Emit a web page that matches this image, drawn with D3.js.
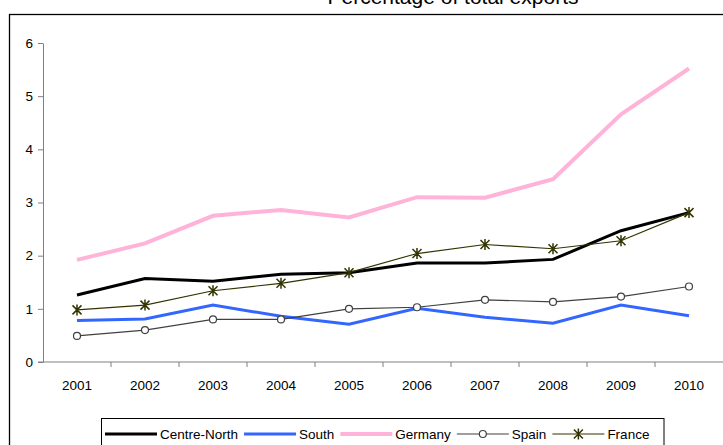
<!DOCTYPE html>
<html lang="en">
<head>
    <meta charset="UTF-8">
    <title>Percentage of total exports</title>
    <script src="https://cdn.jsdelivr.net/npm/d3@7"></script>
    <style>
        body { margin: 0; background: #fff; }
        text { font-family: "Liberation Sans", Arial, sans-serif; fill: #000; }
        .axis path, .axis line { stroke: #808080; }
    </style>
</head>
<body>
    <div id="chart-space"></div>

    <script>
        // chart data
        var years = ["2001", "2002", "2003", "2004", "2005", "2006", "2007", "2008", "2009", "2010"];
        var centreNorth = [1.26, 1.57, 1.52, 1.65, 1.68, 1.86, 1.86, 1.93, 2.47, 2.81];
        var south = [0.78, 0.81, 1.07, 0.86, 0.71, 1.01, 0.84, 0.73, 1.07, 0.87];
        var germany = [1.92, 2.23, 2.75, 2.86, 2.72, 3.10, 3.09, 3.44, 4.66, 5.52];
        var spain = [0.49, 0.60, 0.80, 0.80, 1.00, 1.03, 1.17, 1.13, 1.23, 1.42];
        var france = [0.98, 1.07, 1.34, 1.48, 1.68, 2.04, 2.21, 2.13, 2.28, 2.81];
        var yTicks = [0, 1, 2, 3, 4, 5, 6];

        var width = 723;
        var height = 445;

        var series = [
            {name: "Centre-North", values: centreNorth, color: "#000000", width: 3, marker: null},
            {name: "South", values: south, color: "#3366ff", width: 3, marker: null},
            {name: "Germany", values: germany, color: "#ffb3d9", width: 4, marker: null},
            {name: "Spain", values: spain, color: "#404040", width: 1.2, marker: "circle"},
            {name: "France", values: france, color: "#333300", width: 1.2, marker: "star"}
        ];

        var svg = d3.select("#chart-space")
            .append("svg")
            .attr("width", width)
            .attr("height", height);

        // outer frame (runs off the right and bottom edges)
        svg.append("rect")
            .attr("x", 9.5).attr("y", 14.5)
            .attr("width", 800).attr("height", 500)
            .attr("fill", "none")
            .attr("stroke", "#000")
            .attr("stroke-width", 1.3);

        // title, cut off at the top as in the original
        svg.append("text")
            .attr("x", 453).attr("y", 4)
            .attr("text-anchor", "middle")
            .style("font-size", "21px")
            .text("Percentage of total exports");

        var xScale = d3.scaleBand()
            .domain(years)
            .range([43, 723]);

        var yScale = d3.scaleLinear()
            .domain([0, 6])
            .range([362, 43]);

        // y axis
        svg.append("g")
            .attr("class", "axis")
            .attr("transform", "translate(43,0)")
            .call(d3.axisLeft(yScale).tickValues(yTicks).tickFormat(d3.format("d"))
                .tickSize(5).tickSizeOuter(0).tickPadding(5))
            .call(g => g.selectAll("text").style("font-size", "13.5px").style("font-family", "Liberation Sans, Arial, sans-serif"));

        // x axis: ticks between categories
        var xAxis = svg.append("g")
            .attr("class", "axis")
            .attr("transform", "translate(0,362)");
        xAxis.append("line")
            .attr("x1", 38).attr("x2", 723)
            .attr("stroke", "#808080");
        xAxis.selectAll(".sep")
            .data(years.slice(1))
            .join("line")
            .attr("class", "sep")
            .attr("x1", d => xScale(d)).attr("x2", d => xScale(d))
            .attr("y1", 0).attr("y2", 5)
            .attr("stroke", "#808080");
        xAxis.selectAll(".lbl")
            .data(years)
            .join("text")
            .attr("class", "lbl")
            .attr("x", d => xScale(d) + xScale.bandwidth() / 2)
            .attr("y", 28)
            .attr("text-anchor", "middle")
            .style("font-size", "13.5px")
            .text(d => d);

        var line = d3.line()
            .x((d, i) => xScale(years[i]) + xScale.bandwidth() / 2)
            .y(d => yScale(d));

        // draw order: Germany behind, then others
        var order = [2, 1, 0, 3, 4];
        order.forEach(function(k) {
            var s = series[k];
            svg.append("path")
                .datum(s.values)
                .attr("fill", "none")
                .attr("stroke", s.color)
                .attr("stroke-width", s.width)
                .attr("stroke-linejoin", "miter")
                .attr("d", line);
        });

        function drawMarker(g, type, color, cx, cy) {
            if (type === "circle") {
                g.append("circle")
                    .attr("cx", cx).attr("cy", cy).attr("r", 3.5)
                    .attr("fill", "#fff")
                    .attr("stroke", color)
                    .attr("stroke-width", 1.2);
            } else if (type === "star") {
                var r = 4.5;
                g.append("path")
                    .attr("d", "M" + (cx - r) + "," + (cy - r) + "L" + (cx + r) + "," + (cy + r) +
                        "M" + (cx - r) + "," + (cy + r) + "L" + (cx + r) + "," + (cy - r) +
                        "M" + cx + "," + (cy - r - 1) + "L" + cx + "," + (cy + r + 1))
                    .attr("stroke", color)
                    .attr("stroke-width", 1.5)
                    .attr("fill", "none");
            }
        }

        series.forEach(function(s) {
            if (!s.marker) return;
            var g = svg.append("g");
            s.values.forEach(function(v, i) {
                drawMarker(g, s.marker, s.color, xScale(years[i]) + xScale.bandwidth() / 2, yScale(v));
            });
        });

        // legend
        var legend = svg.append("g");
        legend.append("rect")
            .attr("x", 101.5).attr("y", 418.5)
            .attr("width", 562.5).attr("height", 60)
            .attr("fill", "#fff")
            .attr("stroke", "#000")
            .attr("stroke-width", 1);

        var lx = 105;
        var ly = 434;
        series.forEach(function(s) {
            legend.append("line")
                .attr("x1", lx).attr("x2", lx + 52)
                .attr("y1", ly).attr("y2", ly)
                .attr("stroke", s.color)
                .attr("stroke-width", s.width);
            if (s.marker) drawMarker(legend, s.marker, s.color, lx + 26, ly);
            var t = legend.append("text")
                .attr("x", lx + 55)
                .attr("y", ly + 4.5)
                .style("font-size", "13.5px")
                .text(s.name);
            lx = lx + 55 + t.node().getComputedTextLength() + 6;
        });
    </script>
</body>
</html>
